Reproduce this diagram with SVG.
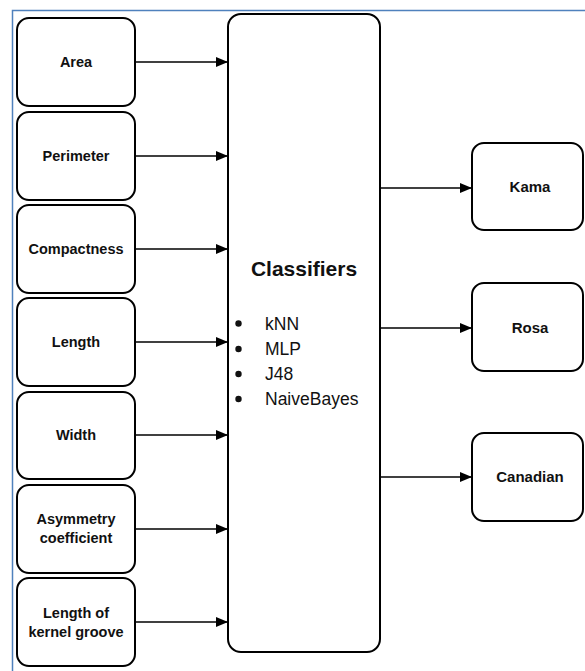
<svg xmlns="http://www.w3.org/2000/svg" width="585" height="671" viewBox="0 0 585 671">
<style>
.box{fill:#fff;stroke:#000;stroke-width:2}
.lbl{font-family:"Liberation Sans",Arial,sans-serif;font-weight:bold;font-size:14.5px;text-anchor:middle;fill:#111}
.out{font-family:"Liberation Sans",Arial,sans-serif;font-weight:bold;font-size:15px;text-anchor:middle;fill:#111}
.item{font-family:"Liberation Sans",Arial,sans-serif;font-size:17.5px;fill:#111}
.conn{stroke:#000;stroke-width:1.5;fill:none;marker-end:url(#ah)}
</style>
<defs>
<marker id="ah" viewBox="0 0 12 10" refX="12" refY="5" markerWidth="12" markerHeight="10" markerUnits="userSpaceOnUse" orient="auto">
<path d="M0,0 L12,5 L0,10 Z" fill="#000"/>
</marker>
</defs>
<rect width="585" height="671" fill="#fff"/>
<path d="M12.5,671 V10.5 H585" fill="none" stroke="#4f81bd" stroke-width="1.5"/>
<g id="connectors">
<line class="conn" x1="135" y1="62" x2="228" y2="62"/>
<line class="conn" x1="135" y1="156" x2="228" y2="156"/>
<line class="conn" x1="135" y1="249" x2="228" y2="249"/>
<line class="conn" x1="135" y1="342" x2="228" y2="342"/>
<line class="conn" x1="135" y1="435" x2="228" y2="435"/>
<line class="conn" x1="135" y1="529" x2="228" y2="529"/>
<line class="conn" x1="135" y1="622" x2="228" y2="622"/>
<line class="conn" x1="380" y1="188" x2="472" y2="188"/>
<line class="conn" x1="380" y1="328" x2="472" y2="328"/>
<line class="conn" x1="380" y1="477" x2="472" y2="477"/>
</g>
<g id="area"><rect class="box" x="17" y="18" width="118" height="88" rx="12"/><text class="lbl" x="76" y="67">Area</text></g>
<g id="perimeter"><rect class="box" x="17" y="112" width="118" height="88" rx="12"/><text class="lbl" x="76" y="161">Perimeter</text></g>
<g id="compactness"><rect class="box" x="17" y="205" width="118" height="88" rx="12"/><text class="lbl" x="76" y="254">Compactness</text></g>
<g id="length"><rect class="box" x="17" y="298" width="118" height="88" rx="12"/><text class="lbl" x="76" y="347">Length</text></g>
<g id="width"><rect class="box" x="17" y="392" width="118" height="87" rx="12"/><text class="lbl" x="76" y="440">Width</text></g>
<g id="asymmetry"><rect class="box" x="17" y="485" width="118" height="88" rx="12"/><text class="lbl" x="76" y="524">Asymmetry</text><text class="lbl" x="76" y="543">coefficient</text></g>
<g id="kernel-groove"><rect class="box" x="17" y="578" width="118" height="88" rx="12"/><text class="lbl" x="76" y="618">Length of</text><text class="lbl" x="76" y="637">kernel groove</text></g>
<g id="classifiers">
<rect class="box" x="228" y="14" width="152" height="638" rx="13"/>
<text x="304" y="276" font-family="Liberation Sans,Arial,sans-serif" font-weight="bold" font-size="21px" text-anchor="middle" fill="#111">Classifiers</text>
<circle cx="238.5" cy="323.5" r="3.2" fill="#111"/><text class="item" x="265" y="329.5">kNN</text>
<circle cx="238.5" cy="349" r="3.2" fill="#111"/><text class="item" x="265" y="355">MLP</text>
<circle cx="238.5" cy="374" r="3.2" fill="#111"/><text class="item" x="265" y="380">J48</text>
<circle cx="238.5" cy="399" r="3.2" fill="#111"/><text class="item" x="265" y="405">NaiveBayes</text>
</g>
<g id="kama"><rect class="box" x="472" y="143" width="111" height="87" rx="12"/><text class="out" x="530" y="192">Kama</text></g>
<g id="rosa"><rect class="box" x="472" y="283" width="111" height="88" rx="12"/><text class="out" x="530" y="333">Rosa</text></g>
<g id="canadian"><rect class="box" x="472" y="433" width="111" height="88" rx="12"/><text class="out" x="530" y="482">Canadian</text></g>
</svg>
